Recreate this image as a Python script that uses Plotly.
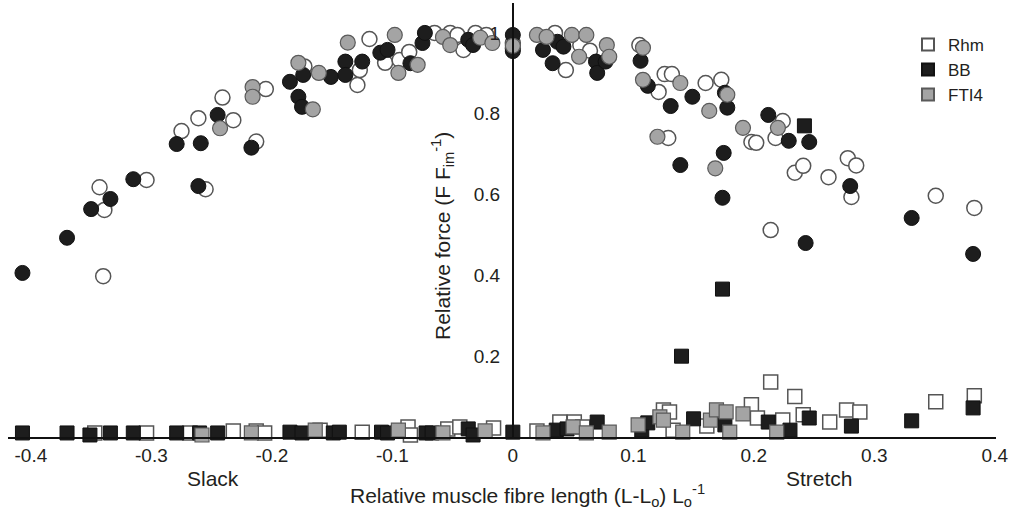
import plotly.graph_objects as go

# ---------------- data ----------------
series_names = ["Rhm", "BB", "FTI4"]

# active force (circles)
rhm_circ_x = [-0.340, -0.339, -0.343, -0.304, -0.275, -0.261, -0.255, -0.241, -0.232, -0.213,
              -0.205, -0.173, -0.129, -0.127, -0.119, -0.106, -0.094, -0.086, -0.065, -0.052,
              -0.046, -0.041, -0.031, -0.022, 0.0, 0.0, 0.035, 0.044, 0.056, 0.064,
              0.105, 0.126, 0.132, 0.121, 0.129, 0.160, 0.173, 0.198, 0.202, 0.224,
              0.218, 0.234, 0.241, 0.262, 0.214, 0.281, 0.278, 0.285, 0.351, 0.383]
rhm_circ_y = [0.398, 0.562, 0.618, 0.636, 0.757, 0.789, 0.613, 0.840, 0.784, 0.731,
              0.861, 0.917, 0.871, 0.908, 0.985, 0.926, 0.933, 0.953, 1.0, 1.0,
              0.995, 0.958, 1.0, 0.995, 0.975, 0.962, 1.0, 0.908, 0.970, 0.956,
              0.970, 0.898, 0.898, 0.854, 0.740, 0.876, 0.884, 0.730, 0.728, 0.782,
              0.740, 0.654, 0.671, 0.643, 0.512, 0.594, 0.690, 0.672, 0.597, 0.567]

bb_circ_x = [-0.407, -0.370, -0.350, -0.334, -0.315, -0.279, -0.259, -0.261, -0.245, -0.217,
             -0.185, -0.174, -0.151, -0.178, -0.175, -0.139, -0.139, -0.125, -0.110, -0.104,
             -0.085, -0.075, -0.073, -0.037, -0.033, 0.0, 0.0, 0.025, 0.037, 0.042,
             0.033, 0.069, 0.070, 0.077, 0.106, 0.112, 0.131, 0.149, 0.176, 0.178,
             0.139, 0.175, 0.174, 0.212, 0.229, 0.246, 0.243, 0.280, 0.331, 0.382]
bb_circ_y = [0.406, 0.493, 0.564, 0.589, 0.638, 0.725, 0.727, 0.621, 0.797, 0.716,
             0.879, 0.896, 0.891, 0.842, 0.817, 0.929, 0.896, 0.929, 0.951, 0.958,
             0.925, 0.975, 1.0, 0.983, 0.970, 0.995, 0.955, 0.958, 0.978, 0.966,
             0.925, 0.929, 0.901, 0.929, 0.931, 0.869, 0.819, 0.842, 0.852, 0.815,
             0.673, 0.703, 0.592, 0.797, 0.733, 0.730, 0.480, 0.621, 0.542, 0.453]

fti_circ_x = [-0.243, -0.216, -0.216, -0.178, -0.161, -0.166, -0.137, -0.098, -0.095, -0.079,
              -0.058, -0.052, -0.027, -0.017, 0.0, 0.020, 0.028, 0.049, 0.061, 0.055,
              0.078, 0.080, 0.108, 0.108, 0.139, 0.163, 0.178, 0.120, 0.168, 0.191, 0.220]
fti_circ_y = [0.764, 0.866, 0.842, 0.926, 0.901, 0.811, 0.976, 0.995, 0.901, 0.921,
              0.990, 0.970, 0.988, 0.975, 0.968, 0.995, 0.990, 0.995, 0.995, 0.941,
              0.970, 0.941, 0.963, 0.884, 0.876, 0.807, 0.847, 0.743, 0.665, 0.765, 0.765]

# passive force (squares)
rhm_sq_x = [-0.347, -0.304, -0.268, -0.232, -0.213, -0.206, -0.160, -0.125, -0.087, -0.085,
            -0.054, -0.044, -0.016, 0.020, 0.039, 0.051, 0.058, 0.125, 0.130, 0.133,
            0.161, 0.198, 0.203, 0.224, 0.214, 0.234, 0.241, 0.263, 0.277, 0.288, 0.351, 0.383]
rhm_sq_y = [0.010, 0.010, 0.010, 0.015, 0.015, 0.010, 0.017, 0.012, 0.025, 0.005,
            0.020, 0.025, 0.022, 0.015, 0.037, 0.037, 0.025, 0.067, 0.062, 0.017,
            0.027, 0.080, 0.047, 0.042, 0.136, 0.100, 0.055, 0.037, 0.067, 0.062, 0.087, 0.102]

bb_sq_x = [-0.407, -0.370, -0.351, -0.334, -0.315, -0.279, -0.260, -0.245, -0.185, -0.175,
           -0.149, -0.144, -0.109, -0.104, -0.072, -0.067, -0.037, -0.033, 0.0, 0.036,
           0.045, 0.070, 0.107, 0.112, 0.150, 0.176, 0.212, 0.230, 0.246, 0.281,
           0.331, 0.382, 0.140, 0.174, 0.242]
bb_sq_y = [0.010, 0.010, 0.005, 0.010, 0.010, 0.010, 0.010, 0.010, 0.012, 0.010,
           0.010, 0.012, 0.012, 0.010, 0.010, 0.010, 0.020, 0.005, 0.012, 0.017,
           0.020, 0.037, 0.017, 0.035, 0.045, 0.030, 0.037, 0.017, 0.047, 0.027,
           0.040, 0.072, 0.200, 0.366, 0.770]

fti_sq_x = [-0.258, -0.217, -0.164, -0.095, -0.058, -0.023, 0.025, 0.050, 0.061, 0.080,
            0.104, 0.122, 0.125, 0.141, 0.164, 0.169, 0.177, 0.180, 0.191, 0.219]
fti_sq_y = [0.005, 0.010, 0.017, 0.017, 0.010, 0.015, 0.010, 0.025, 0.010, 0.012,
            0.030, 0.050, 0.042, 0.012, 0.042, 0.067, 0.062, 0.012, 0.057, 0.012]

x_tickvals = [-0.4, -0.3, -0.2, -0.1, 0, 0.1, 0.2, 0.3, 0.4]
x_ticktext = ["-0.4", "-0.3", "-0.2", "-0.1", "0", "0.1", "0.2", "0.3", "0.4"]
y_tickvals = [0.2, 0.4, 0.6, 0.8, 1.0]
y_ticktext = ["0.2", "0.4", "0.6", "0.8", "1"]

# ---------------- style ----------------
FONT = "Liberation Sans, Arial, Helvetica, sans-serif"
TXT = "#231f20"
TICK_SIZE = 19
LABEL_SIZE = 21
styles = {
    "Rhm": dict(color="#ffffff", line=dict(color="#555555", width=1.5)),
    "BB": dict(color="#1d1d1d", line=dict(color="#111111", width=1)),
    "FTI4": dict(color="#a4a4a4", line=dict(color="#5a5a5a", width=1.2)),
}
circ = {"Rhm": (rhm_circ_x, rhm_circ_y), "BB": (bb_circ_x, bb_circ_y), "FTI4": (fti_circ_x, fti_circ_y)}
sq = {"Rhm": (rhm_sq_x, rhm_sq_y), "BB": (bb_sq_x, bb_sq_y), "FTI4": (fti_sq_x, fti_sq_y)}

fig = go.Figure()
for name in series_names:
    fig.add_trace(go.Scatter(
        x=sq[name][0], y=sq[name][1], mode="markers", name=name, legendgroup=name,
        showlegend=True, cliponaxis=False,
        marker=dict(symbol="square", size=14, **styles[name])))
for name in series_names:
    fig.add_trace(go.Scatter(
        x=circ[name][0], y=circ[name][1], mode="markers", name=name, legendgroup=name,
        showlegend=False, cliponaxis=False,
        marker=dict(symbol="circle", size=15, **styles[name])))

L, R, T, B = 8, 18, 3, 82
W, H = 1014, 519
plot_w = W - L - R
plot_h = H - T - B
x0_px = 513


def px_x(p):
    return (p - L) / plot_w


def px_y(p):
    return 1 - (p - T) / plot_h


fig.update_layout(
    width=W, height=H,
    margin=dict(l=L, r=R, t=T, b=B, autoexpand=False),
    paper_bgcolor="white", plot_bgcolor="white",
    font=dict(family=FONT, size=TICK_SIZE, color=TXT),
    showlegend=True,
    legend=dict(x=px_x(908), y=0.945, xanchor="left", yanchor="top",
                bgcolor="rgba(0,0,0,0)", font=dict(size=17, color=TXT),
                itemsizing="constant", tracegroupgap=0),
    xaxis=dict(range=[-0.419, 0.401], tickvals=x_tickvals, ticktext=x_ticktext,
               showgrid=False, zeroline=False, showline=True, linecolor="#111111",
               linewidth=2, ticks="", tickfont=dict(size=TICK_SIZE, color=TXT), automargin=False),
    yaxis=dict(range=[0, 1.074], tickvals=y_tickvals, ticktext=y_ticktext,
               showgrid=False, zeroline=False, showline=True, linecolor="#111111",
               linewidth=2, ticks="", anchor="free", position=px_x(x0_px),
               tickfont=dict(size=TICK_SIZE, color=TXT), ticklabelstandoff=8, automargin=False),
    annotations=[
        dict(text="Relative force (F F<sub>im</sub><sup>-1</sup>)", xref="paper", yref="paper",
             x=px_x(443), y=px_y(236), textangle=-90,
             showarrow=False, font=dict(size=LABEL_SIZE, color=TXT), xanchor="center", yanchor="middle"),
        dict(text="Slack", xref="paper", yref="paper", x=px_x(213), y=px_y(478),
             showarrow=False, xanchor="center", yanchor="middle",
             font=dict(size=LABEL_SIZE, color=TXT)),
        dict(text="Stretch", xref="paper", yref="paper", x=px_x(819), y=px_y(478),
             showarrow=False, xanchor="center", yanchor="middle",
             font=dict(size=LABEL_SIZE, color=TXT)),
        dict(text="Relative muscle fibre length (L-L<sub>o</sub>) L<sub>o</sub><sup>-1</sup>",
             xref="paper", yref="paper", x=px_x(527), y=px_y(496),
             showarrow=False, xanchor="center", yanchor="middle",
             font=dict(size=LABEL_SIZE, color=TXT)),
    ],
)

fig.write_html("out.html", config={"displayModeBar": False},
               post_script="document.body.style.margin='0';")
